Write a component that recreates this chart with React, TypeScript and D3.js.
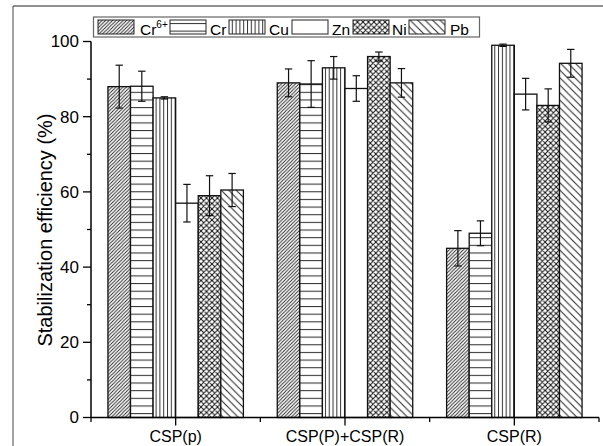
import React from "react";
import * as d3 from "d3";

const categories = ["CSP(p)", "CSP(P)+CSP(R)", "CSP(R)"];
const series = ["Cr6+", "Cr", "Cu", "Zn", "Ni", "Pb"];
const cr6Values = [88, 89, 45];
const cr6Errors = [5.7, 3.7, 4.7];
const crValues = [88.1, 88.7, 49];
const crErrors = [4, 6.2, 3.3];
const cuValues = [85, 93, 99];
const cuErrors = [0.3, 3, 0.3];
const znValues = [57, 87.5, 86];
const znErrors = [5, 3.4, 4.2];
const niValues = [59, 96, 83];
const niErrors = [5.3, 1.2, 4.4];
const pbValues = [60.5, 89, 94.2];
const pbErrors = [4.4, 3.8, 3.7];
const yTicks = [0, 20, 40, 60, 80, 100];

const valuesBySeries = [cr6Values, crValues, cuValues, znValues, niValues, pbValues];
const errorsBySeries = [cr6Errors, crErrors, cuErrors, znErrors, niErrors, pbErrors];
const patternIds = ["p-cr6", "p-cr", "p-cu", "p-zn", "p-ni", "p-pb"];

const W = 603;
const H = 446;
const left = 91;
const right = 599;
const top = 41.5;
const bottom = 417.5;
const font = "'Liberation Sans', Arial, sans-serif";

export default function App() {
  const x0 = d3.scaleBand<string>().domain(categories).range([left, right]).padding(0);
  const bw = x0.bandwidth();
  const x1 = d3.scaleBand<string>().domain(series).range([bw * 0.1, bw * 0.9]).padding(0);
  const y = d3.scaleLinear().domain([0, 100]).range([bottom, top]);
  const minorTicks = d3.range(10, 100, 20);

  const legendItems = [
    { x: 98, tx: 140 },
    { x: 170, tx: 210 },
    { x: 229, tx: 269 },
    { x: 292, tx: 332 },
    { x: 353, tx: 392 },
    { x: 409, tx: 450 },
  ];

  const xMinor = [left, ...categories.slice(1).map((c) => x0(c)!), right];

  return (
    <svg
      width={W}
      height={H}
      style={{ position: "absolute", left: 0, top: 0, background: "#fff" }}
      fontFamily={font}
    >
      <defs>
        <pattern id="p-cr6" patternUnits="userSpaceOnUse" width={3.5} height={3.5}>
          <rect width={3.5} height={3.5} fill="#fff" />
          <path d="M0,3.5 L3.5,0 M-1,1 L1,-1 M2.5,4.5 L4.5,2.5" stroke="#222" strokeWidth={0.9} />
        </pattern>
        <pattern id="p-cr" patternUnits="userSpaceOnUse" width={10} height={7.65}>
          <rect width={10} height={7.65} fill="#fff" />
          <line x1={0} x2={10} y1={0.5} y2={0.5} stroke="#333" strokeWidth={1.1} />
        </pattern>
        <pattern id="p-cu" patternUnits="userSpaceOnUse" width={3.8} height={10}>
          <rect width={3.8} height={10} fill="#fff" />
          <line x1={0.5} x2={0.5} y1={0} y2={10} stroke="#333" strokeWidth={1} />
        </pattern>
        <pattern id="p-zn" patternUnits="userSpaceOnUse" width={10} height={10}>
          <rect width={10} height={10} fill="#fff" />
        </pattern>
        <pattern id="p-ni" patternUnits="userSpaceOnUse" width={5.5} height={5.5}>
          <rect width={5.5} height={5.5} fill="#fff" />
          <path
            d="M0,5.5 L5.5,0 M-1,1 L1,-1 M4.5,6.5 L6.5,4.5 M0,0 L5.5,5.5 M-1,4.5 L1,6.5 M4.5,-1 L6.5,1"
            stroke="#111"
            strokeWidth={1}
          />
        </pattern>
        <pattern id="p-pb" patternUnits="userSpaceOnUse" width={7.5} height={7.5}>
          <rect width={7.5} height={7.5} fill="#fff" />
          <path d="M0,0 L7.5,7.5 M-1,6.5 L1,8.5 M6.5,-1 L8.5,1" stroke="#222" strokeWidth={1} />
        </pattern>
      </defs>

      {/* outer frame */}
      <line x1={13} x2={13} y1={6} y2={H} stroke="#444" strokeWidth={1} />
      <line x1={13} x2={W} y1={6} y2={6} stroke="#222" strokeWidth={1} />

      {/* bars */}
      {categories.map((c, ci) => (
        <g key={c} transform={`translate(${x0(c)},0)`}>
          {series.map((s, si) => {
            const v = valuesBySeries[si][ci];
            const bx = x1(s)!;
            return (
              <rect
                key={s}
                x={bx}
                y={y(v)}
                width={x1.bandwidth()}
                height={y(0) - y(v)}
                fill={`url(#${patternIds[si]})`}
                stroke="#111"
                strokeWidth={1.3}
              />
            );
          })}
          {series.map((s, si) => {
            const v = valuesBySeries[si][ci];
            const e = errorsBySeries[si][ci];
            const cx = x1(s)! + x1.bandwidth() / 2;
            return (
              <g key={s + "e"} stroke="#111" strokeWidth={1.2}>
                <line x1={cx} x2={cx} y1={y(v + e)} y2={y(v - e)} />
                <line x1={cx - 3.7} x2={cx + 3.7} y1={y(v + e)} y2={y(v + e)} />
                <line x1={cx - 3.7} x2={cx + 3.7} y1={y(v - e)} y2={y(v - e)} />
              </g>
            );
          })}
        </g>
      ))}

      {/* y axis */}
      <line x1={left} x2={left} y1={top} y2={bottom} stroke="#000" strokeWidth={1.5} />
      {yTicks.map((t) => (
        <g key={t}>
          <line x1={left - 8} x2={left} y1={y(t)} y2={y(t)} stroke="#000" strokeWidth={1.3} />
          <text x={left - 12} y={y(t)} dy="0.35em" textAnchor="end" fontSize={17}>
            {t}
          </text>
        </g>
      ))}
      {minorTicks.map((t) => (
        <line key={t} x1={left - 4} x2={left} y1={y(t)} y2={y(t)} stroke="#000" strokeWidth={1.3} />
      ))}
      <text
        transform={`translate(52,230) rotate(-90)`}
        textAnchor="middle"
        fontSize={20}
      >
        Stabilization efficiency (%)
      </text>

      {/* x axis */}
      <line x1={left} x2={right} y1={bottom} y2={bottom} stroke="#000" strokeWidth={1.5} />
      {categories.map((c) => {
        const cx = x0(c)! + bw / 2;
        return (
          <g key={c}>
            <line x1={cx} x2={cx} y1={bottom} y2={bottom + 8} stroke="#000" strokeWidth={1.3} />
            <text x={cx} y={441.5} textAnchor="middle" fontSize={16}>
              {c}
            </text>
          </g>
        );
      })}
      {xMinor.map((mx, i) => (
        <line key={i} x1={mx} x2={mx} y1={bottom} y2={bottom + 4.5} stroke="#000" strokeWidth={1.3} />
      ))}

      {/* legend */}
      <rect x={93.5} y={17} width={386} height={20} fill="#fff" stroke="#666" strokeWidth={1.2} />
      {series.map((s, si) => (
        <g key={s}>
          <rect
            x={legendItems[si].x}
            y={20}
            width={36}
            height={14}
            fill={`url(#${patternIds[si]})`}
            stroke="#222"
            strokeWidth={1}
          />
          <text x={legendItems[si].tx} y={35} fontSize={15.5}>
            {s === "Cr6+" ? (
              <>
                Cr
                <tspan fontSize={10} dy={-7}>
                  6+
                </tspan>
              </>
            ) : (
              s
            )}
          </text>
        </g>
      ))}
    </svg>
  );
}
